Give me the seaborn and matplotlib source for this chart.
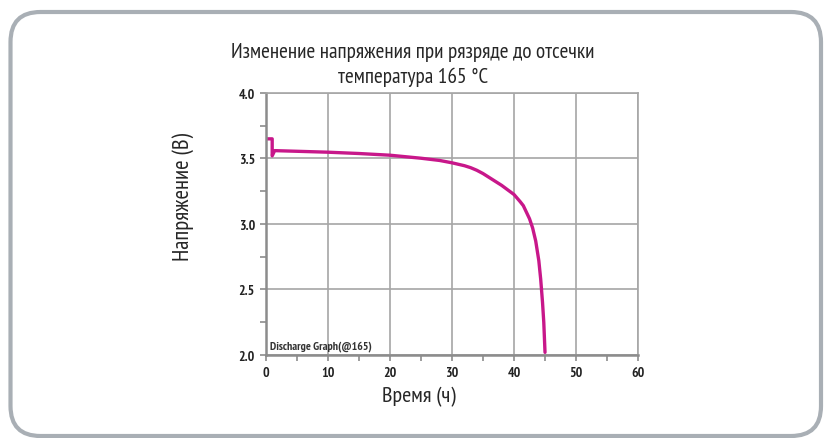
import matplotlib
matplotlib.use("Agg")
import matplotlib.pyplot as plt
import matplotlib.patches as mpatches
from matplotlib.transforms import IdentityTransform
from matplotlib.ticker import MultipleLocator
import pandas as pd
import seaborn as sns

# discharge curve
time_h = [0, 1.0, 1.0, 1.4, 5, 10, 15, 20, 25, 28, 30, 32, 33, 34, 35, 36, 37, 38,
          39, 40, 41, 41.5, 42, 42.5, 43, 43.5, 44, 44.3, 44.6, 44.8, 45]
voltage = [3.65, 3.65, 3.52, 3.56, 3.555, 3.548, 3.538, 3.525, 3.502, 3.485, 3.467,
           3.445, 3.43, 3.41, 3.385, 3.355, 3.325, 3.295, 3.26, 3.225, 3.17, 3.14,
           3.09, 3.04, 2.97, 2.87, 2.72, 2.58, 2.40, 2.25, 2.02]
x_ticks = [0, 10, 20, 30, 40, 50, 60]
y_ticks = [2.0, 2.5, 3.0, 3.5, 4.0]

title = "Изменение напряжения при рязряде до отсечки\nтемпература 165 °C"
x_label = "Время (ч)"
y_label = "Напряжение (В)"
note = "Discharge Graph(@165)"

sns.set_style("white")
plt.rcParams['font.family'] = ['PT Sans Narrow', 'DejaVu Sans']

df = pd.DataFrame({"time": time_h, "voltage": voltage})

fig = plt.figure(figsize=(8.24, 4.39), dpi=100)
ax = fig.add_axes([0.3228, 0.1891, 0.4515, 0.5968])

# rounded frame around the whole card
frame = mpatches.FancyBboxPatch((10.5, 2), 810.5, 424,
                                boxstyle="round,pad=0,rounding_size=30",
                                transform=IdentityTransform(),
                                facecolor="none", edgecolor="#a9afb5", linewidth=3)
fig.patches.append(frame)

sns.lineplot(data=df, x="time", y="voltage", ax=ax, sort=False, estimator=None,
             color="#c8178a", linewidth=2.4)

ax.set_xlim(0, 60)
ax.set_ylim(2.0, 4.0)
ax.set_xticks(x_ticks)
ax.set_yticks(y_ticks)
ax.set_yticklabels([f"{v:.1f}" for v in y_ticks])
ax.xaxis.set_minor_locator(MultipleLocator(5))
ax.yaxis.set_minor_locator(MultipleLocator(0.25))
ax.grid(True, which="major", color="#a6a6a6", linewidth=1.2)
ax.set_axisbelow(True)
for side, sp in ax.spines.items():
    sp.set_color("#a6a6a6")
    sp.set_linewidth(1.2)
ax.spines["left"].set_color("#8c8c8c")
ax.spines["bottom"].set_color("#8c8c8c")
ax.spines["left"].set_linewidth(1.8)
ax.spines["bottom"].set_linewidth(1.8)
ax.tick_params(which="both", direction="out", length=4, width=1.2, color="#8c8c8c",
               bottom=True, left=True)
ax.tick_params(which="major", labelsize=10, labelcolor="#222222", pad=4)
for lbl in ax.get_xticklabels() + ax.get_yticklabels():
    lbl.set_fontweight("bold")

# title and labels sit centred on the card, not on the axes
ax.set_xlabel(x_label, fontsize=16, labelpad=5, x=0.411)
ax.set_ylabel(y_label, fontsize=16.5, labelpad=32, y=0.607)
ax.set_title(title, fontsize=15.3, pad=8, linespacing=1.35, x=0.395)

ax.text(0.012, 0.015, note, transform=ax.transAxes, fontsize=8.5,
        fontweight="bold", color="#333333", ha="left", va="bottom")

fig.savefig("out.png", dpi=100)
